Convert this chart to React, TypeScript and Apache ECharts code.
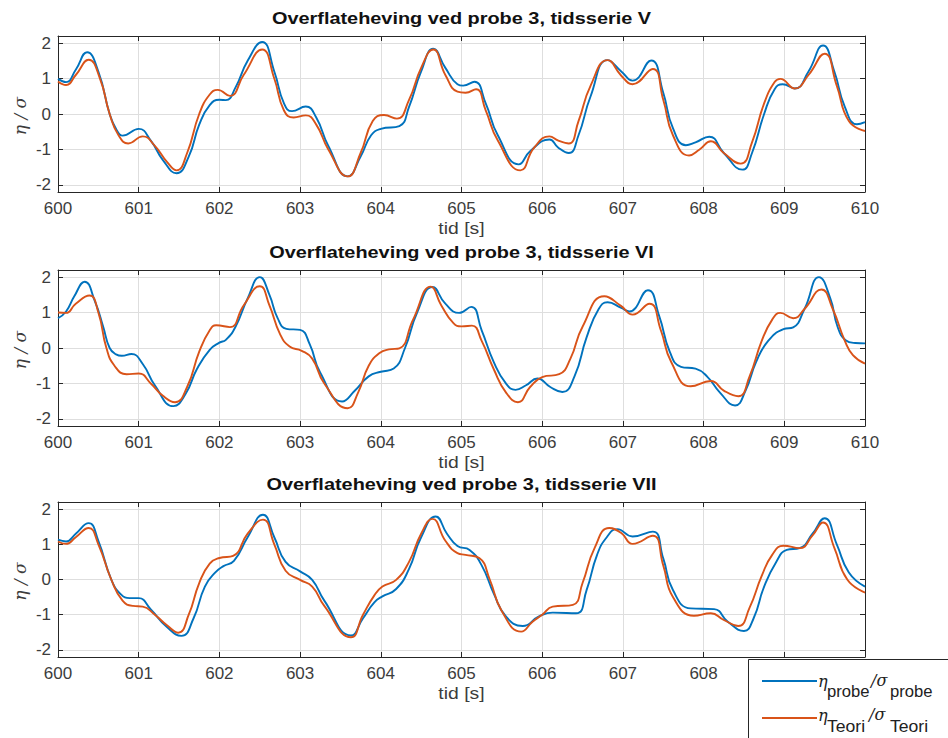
import React, { useEffect, useRef } from 'react';
import * as echarts from 'echarts';

type Pt = [number, number];

const titles = [
  'Overflateheving ved probe 3, tidsserie V',
  'Overflateheving ved probe 3, tidsserie VI',
  'Overflateheving ved probe 3, tidsserie VII',
];
const xAxisTitle = 'tid [s]';
const yAxisTitle = 'η / σ';
const xRange = [600, 610];
const yRange = [-2.2, 2.2];
// the last panel's 609/610 tick labels sit under the legend box
const legendCoveredFrom = 609;

// Normalised surface elevation, probe measurement vs. theory (time [s], value)
const probeV: Pt[] = [
  [600.0, 0.99], [600.1, 0.9], [600.22, 1.25], [600.36, 1.74], [600.5, 1.2], [600.64, 0.0], [600.72, -0.42],
  [600.8, -0.61], [601.0, -0.42], [601.15, -0.75], [601.3, -1.3], [601.47, -1.67], [601.62, -1.2], [601.75, -0.3],
  [601.88, 0.25], [602.0, 0.4], [602.08, 0.39], [602.2, 0.75], [602.35, 1.5], [602.53, 2.03], [602.68, 1.2],
  [602.8, 0.3], [602.9, 0.08], [603.07, 0.21], [603.2, -0.1], [603.35, -0.9], [603.59, -1.76], [603.75, -1.2],
  [603.88, -0.6], [604.0, -0.42], [604.23, -0.34], [604.35, 0.2], [604.5, 1.2], [604.65, 1.84], [604.8, 1.3],
  [604.95, 0.84], [605.02, 0.8], [605.16, 0.91], [605.3, 0.3], [605.45, -0.6], [605.71, -1.42], [605.85, -1.05],
  [606.09, -0.72], [606.2, -0.95], [606.33, -1.1], [606.45, -0.6], [606.6, 0.5], [606.81, 1.52], [606.98, 1.2],
  [607.12, 0.94], [607.35, 1.51], [607.5, 0.6], [607.62, -0.4], [607.78, -0.88], [607.9, -0.8], [608.07, -0.64],
  [608.25, -1.1], [608.48, -1.57], [608.6, -1.1], [608.75, 0.0], [608.88, 0.7], [608.98, 0.84], [609.13, 0.72],
  [609.3, 1.2], [609.48, 1.93], [609.62, 1.2], [609.75, 0.2], [609.9, -0.29], [610.0, -0.23],
];
const teoriV: Pt[] = [
  [600.0, 0.92], [600.1, 0.82], [600.22, 1.1], [600.38, 1.53], [600.52, 1.0], [600.64, 0.0], [600.75, -0.6],
  [600.87, -0.83], [601.05, -0.63], [601.2, -0.9], [601.35, -1.35], [601.47, -1.59], [601.6, -1.1], [601.75, 0.0],
  [601.88, 0.55], [601.98, 0.68], [602.13, 0.51], [602.3, 1.1], [602.53, 1.82], [602.68, 1.0], [602.8, 0.1],
  [602.92, -0.1], [603.07, -0.04], [603.2, -0.3], [603.35, -1.0], [603.59, -1.76], [603.75, -1.1], [603.9, -0.2],
  [604.04, -0.03], [604.2, -0.13], [604.35, 0.4], [604.5, 1.3], [604.65, 1.82], [604.8, 1.1], [604.95, 0.63],
  [605.05, 0.6], [605.18, 0.7], [605.3, 0.1], [605.45, -0.75], [605.73, -1.59], [605.9, -0.95], [606.09, -0.63],
  [606.2, -0.75], [606.33, -0.83], [606.45, -0.2], [606.6, 0.8], [606.81, 1.52], [606.98, 1.08], [607.12, 0.84],
  [607.37, 1.27], [607.5, 0.4], [607.62, -0.6], [607.82, -1.17], [607.95, -1.0], [608.09, -0.77], [608.25, -1.1],
  [608.46, -1.4], [608.6, -0.8], [608.75, 0.3], [608.88, 0.9], [608.95, 0.99], [609.13, 0.72], [609.3, 1.1],
  [609.5, 1.7], [609.65, 0.8], [609.8, -0.2], [610.0, -0.48],
];

const probeVI: Pt[] = [
  [600.0, 0.84], [600.1, 1.03], [600.2, 1.45], [600.33, 1.87], [600.46, 1.3], [600.56, 0.6], [600.64, 0.0],
  [600.72, -0.18], [600.79, -0.22], [600.91, -0.17], [601.05, -0.45], [601.2, -1.05], [601.43, -1.64],
  [601.58, -1.3], [601.72, -0.6], [601.88, -0.05], [602.0, 0.15], [602.08, 0.23], [602.2, 0.6], [602.35, 1.4],
  [602.5, 2.0], [602.62, 1.5], [602.72, 0.85], [602.83, 0.54], [603.0, 0.51], [603.12, 0.1], [603.25, -0.7],
  [603.52, -1.51], [603.68, -1.2], [603.85, -0.8], [604.0, -0.67], [604.16, -0.58], [604.3, 0.0], [604.45, 1.0],
  [604.64, 1.72], [604.8, 1.25], [604.97, 0.99], [605.12, 1.16], [605.25, 0.5], [605.4, -0.4], [605.55, -1.0],
  [605.67, -1.18], [605.8, -1.05], [605.94, -0.86], [606.1, -1.1], [606.25, -1.24], [606.4, -0.8], [606.55, 0.3],
  [606.7, 1.1], [606.81, 1.29], [606.98, 1.13], [607.08, 1.03], [607.31, 1.63], [607.45, 0.9], [607.58, -0.1],
  [607.72, -0.53], [607.9, -0.58], [608.05, -0.82], [608.2, -1.25], [608.39, -1.62], [608.52, -1.2],
  [608.65, -0.4], [608.8, 0.2], [608.99, 0.53], [609.11, 0.58], [609.25, 1.1], [609.43, 2.0], [609.57, 1.4],
  [609.66, 0.6], [609.76, 0.22], [609.88, 0.14], [610.0, 0.13],
];
const teoriVI: Pt[] = [
  [600.0, 1.0], [600.1, 0.99], [600.22, 1.25], [600.39, 1.48], [600.5, 1.0], [600.6, 0.0], [600.7, -0.5],
  [600.85, -0.74], [601.0, -0.72], [601.15, -1.0], [601.3, -1.35], [601.45, -1.53], [601.6, -1.1], [601.75, -0.1],
  [601.88, 0.5], [601.96, 0.64], [602.13, 0.59], [602.3, 1.2], [602.5, 1.74], [602.62, 1.2], [602.75, 0.4],
  [602.87, 0.04], [603.02, -0.08], [603.15, -0.3], [603.3, -1.0], [603.59, -1.7], [603.72, -1.25], [603.85, -0.5],
  [603.98, -0.15], [604.1, -0.04], [604.23, -0.01], [604.4, 0.8], [604.62, 1.73], [604.75, 1.2], [604.9, 0.7],
  [605.0, 0.61], [605.13, 0.63], [605.25, 0.2], [605.4, -0.6], [605.55, -1.25], [605.7, -1.53], [605.85, -1.1],
  [606.0, -0.82], [606.21, -0.74], [606.35, -0.3], [606.5, 0.6], [606.77, 1.46], [606.98, 1.18], [607.12, 0.94],
  [607.33, 1.25], [607.47, 0.5], [607.6, -0.4], [607.84, -1.08], [608.09, -0.93], [608.25, -1.2], [608.43, -1.36],
  [608.57, -0.8], [608.72, 0.2], [608.85, 0.8], [608.95, 0.99], [609.11, 0.84], [609.25, 1.1], [609.46, 1.65],
  [609.6, 1.1], [609.75, 0.2], [609.85, -0.2], [610.0, -0.44],
];

const probeVII: Pt[] = [
  [600.0, 1.13], [600.1, 1.08], [600.22, 1.3], [600.38, 1.6], [600.5, 1.1], [600.66, 0.0], [600.78, -0.42],
  [600.89, -0.53], [601.0, -0.53], [601.15, -0.85], [601.35, -1.35], [601.53, -1.6], [601.68, -1.1],
  [601.82, -0.2], [601.95, 0.2], [602.05, 0.38], [602.18, 0.53], [602.35, 1.2], [602.54, 1.84],
  [602.68, 1.2], [602.82, 0.5], [603.0, 0.23], [603.15, -0.01], [603.3, -0.6], [603.63, -1.59], [603.78, -1.1],
  [603.92, -0.65], [604.02, -0.48], [604.19, -0.27], [604.35, 0.3], [604.5, 1.2], [604.68, 1.79], [604.82, 1.3],
  [604.95, 0.95], [605.1, 0.84], [605.25, 0.4], [605.4, -0.4], [605.55, -1.05], [605.76, -1.32], [605.96, -1.05],
  [606.13, -0.94], [606.42, -0.96], [606.55, -0.3], [606.68, 0.7], [606.8, 1.2], [606.93, 1.43], [607.12, 1.22],
  [607.37, 1.36], [607.5, 0.6], [607.62, -0.3], [607.84, -0.82], [608.13, -0.84], [608.3, -1.2], [608.5, -1.46],
  [608.62, -1.1], [608.75, -0.2], [608.9, 0.5], [609.03, 0.84], [609.19, 0.89], [609.35, 1.3], [609.5, 1.74],
  [609.65, 1.0], [609.8, 0.2], [610.0, -0.2],
];
const teoriVII: Pt[] = [
  [600.0, 1.08], [600.1, 1.01], [600.22, 1.2], [600.38, 1.46], [600.5, 1.0], [600.66, 0.0], [600.8, -0.6],
  [600.93, -0.75], [601.05, -0.77], [601.2, -1.0], [601.35, -1.3], [601.49, -1.51], [601.62, -1.0],
  [601.75, -0.1], [601.88, 0.45], [602.0, 0.61], [602.17, 0.67], [602.35, 1.3], [602.54, 1.7], [602.68, 1.0],
  [602.82, 0.25], [603.0, -0.01], [603.15, -0.2], [603.3, -0.75], [603.63, -1.64], [603.78, -1.0],
  [603.92, -0.45], [604.02, -0.2], [604.19, -0.01], [604.35, 0.5], [604.5, 1.3], [604.64, 1.72], [604.8, 1.1],
  [604.95, 0.75], [605.05, 0.7], [605.22, 0.61], [605.35, 0.0], [605.5, -0.9], [605.74, -1.48], [605.88, -1.2],
  [606.0, -1.0], [606.13, -0.77], [606.38, -0.72], [606.5, -0.1], [606.65, 0.9], [606.83, 1.46], [606.98, 1.32],
  [607.12, 1.01], [607.37, 1.24], [607.5, 0.4], [607.62, -0.5], [607.88, -1.03], [608.09, -0.96], [608.25, -1.15],
  [608.43, -1.32], [608.57, -0.8], [608.72, 0.1], [608.85, 0.7], [608.99, 0.96], [609.19, 0.89], [609.35, 1.25],
  [609.48, 1.62], [609.62, 0.9], [609.78, 0.0], [610.0, -0.37],
];

const BLUE = '#0072BD';
const ORANGE = '#D95319';
const AXIS = '#262626';
const LABEL = '#3c3c3c';
const FONT = '"Liberation Sans", Arial, sans-serif';
const GREEK = '"DejaVu Serif", serif';

const panels = [
  { top: 36, height: 156, probe: probeV, teori: teoriV },
  { top: 270, height: 156, probe: probeVI, teori: teoriVI },
  { top: 502, height: 155, probe: probeVII, teori: teoriVII },
];
const LEFT = 58;
const WIDTH = 807;

function buildOption(): echarts.EChartsOption {
  const grid: any[] = [];
  const xAxis: any[] = [];
  const yAxis: any[] = [];
  const series: any[] = [];
  const graphic: any[] = [];

  const intLabel = (v: number) => (Math.abs(v - Math.round(v)) < 1e-9 ? String(Math.round(v)) : '');
  const frame = { show: true, onZero: false, lineStyle: { color: AXIS, width: 1 } };
  const ticks = { show: true, inside: true, length: 5, lineStyle: { color: AXIS } };
  const gridLine = { show: true, lineStyle: { color: '#dedede', width: 1 } };
  const last = panels.length - 1;

  panels.forEach((p) => {
    grid.push({ left: LEFT, top: p.top, width: WIDTH, height: p.height, containLabel: false });
  });
  panels.forEach((p, i) => {
    xAxis.push({
      type: 'value', gridIndex: i, min: xRange[0], max: xRange[1], interval: 1, position: 'bottom',
      axisLine: frame, axisTick: ticks, splitLine: gridLine,
      axisLabel: {
        color: LABEL, fontSize: 17, fontFamily: FONT, margin: 8,
        formatter: (v: number) => (i === last && v >= legendCoveredFrom ? '' : String(v)),
      },
    });
  });
  panels.forEach((p, i) => {
    xAxis.push({
      type: 'value', gridIndex: i, min: xRange[0], max: xRange[1], interval: 1, position: 'top',
      axisLine: frame, axisTick: ticks, axisLabel: { show: false }, splitLine: { show: false },
    });
  });
  panels.forEach((p, i) => {
    yAxis.push({
      type: 'value', gridIndex: i, min: yRange[0], max: yRange[1], position: 'left',
      axisLine: frame, axisTick: ticks, splitLine: gridLine,
      axisLabel: { color: LABEL, fontSize: 17, fontFamily: FONT, margin: 7, formatter: intLabel, showMinLabel: false, showMaxLabel: false },
    });
  });
  panels.forEach((p, i) => {
    yAxis.push({
      type: 'value', gridIndex: i, min: yRange[0], max: yRange[1], position: 'right',
      axisLine: frame, axisTick: ticks, axisLabel: { show: false }, splitLine: { show: false },
    });
  });

  panels.forEach((p, i) => {
    const common = {
      type: 'line', xAxisIndex: i, yAxisIndex: i, showSymbol: false, smooth: 0.5,
      clip: true, silent: true,
    };
    series.push({ ...common, name: 'probe', data: p.probe, lineStyle: { color: BLUE, width: 1.9 }, itemStyle: { color: BLUE }, z: 3 });
    series.push({ ...common, name: 'teori', data: p.teori, lineStyle: { color: ORANGE, width: 1.9 }, itemStyle: { color: ORANGE }, z: 4 });

    const cx = LEFT + WIDTH / 2;
    graphic.push({
      type: 'text', x: cx, y: p.top - 17.5, scaleX: 1.17, z: 50,
      style: { text: titles[i], fill: '#111', font: `bold 17px ${FONT}`, textAlign: 'center', textVerticalAlign: 'middle' },
    });
    graphic.push({
      type: 'text', x: cx, y: p.top + p.height + 36, scaleX: 1.14, z: 50,
      style: { text: xAxisTitle, fill: LABEL, font: `17px ${FONT}`, textAlign: 'center', textVerticalAlign: 'middle' },
    });
    graphic.push({
      type: 'text', x: 20, y: p.top + p.height / 2 + 2, rotation: Math.PI / 2, z: 50,
      style: { text: yAxisTitle, fill: LABEL, font: `italic 17px ${GREEK}`, textAlign: 'center', textVerticalAlign: 'middle' },
    });
  });

  // legend box, lower right
  const txt = (text: string, x: number, y: number, size: number, greek: boolean, sx = 1) => ({
    type: 'text', x, y, scaleX: sx, z: 101,
    style: {
      text, fill: '#222', font: `${greek ? 'italic ' : ''}${size}px ${greek ? GREEK : FONT}`,
      textAlign: 'left', textVerticalAlign: 'middle',
    },
  });
  graphic.push({
    type: 'group', z: 100,
    children: [
      { type: 'rect', z: 100, shape: { x: 748.5, y: 659.5, width: 210, height: 90 }, style: { fill: '#fff', stroke: AXIS, lineWidth: 1 } },
      { type: 'line', z: 101, shape: { x1: 762, y1: 681, x2: 817, y2: 681 }, style: { stroke: BLUE, lineWidth: 1.9 } },
      { type: 'line', z: 101, shape: { x1: 762, y1: 718, x2: 817, y2: 718 }, style: { stroke: ORANGE, lineWidth: 1.9 } },
      txt('η', 818, 681, 16, true),
      txt('probe', 827, 691, 16, false, 1.04),
      txt('/σ', 871, 680, 16, true),
      txt('probe', 890, 691, 16, false, 1.04),
      txt('η', 818, 715, 16, true),
      txt('Teori', 827, 727, 16, false, 1.1),
      txt('/σ', 869, 714, 16, true),
      txt('Teori', 890, 727, 16, false, 1.1),
    ],
  });

  return { animation: false, backgroundColor: '#fff', grid, xAxis, yAxis, series, graphic };
}

export default function App() {
  const ref = useRef<HTMLDivElement>(null);
  useEffect(() => {
    if (!ref.current) return;
    const chart = echarts.init(ref.current, undefined, { renderer: 'svg' });
    chart.setOption(buildOption());
    return () => chart.dispose();
  }, []);
  return (
    <div
      ref={ref}
      style={{ position: 'fixed', left: 0, top: 0, width: 948, height: 738, background: '#fff' }}
    />
  );
}
